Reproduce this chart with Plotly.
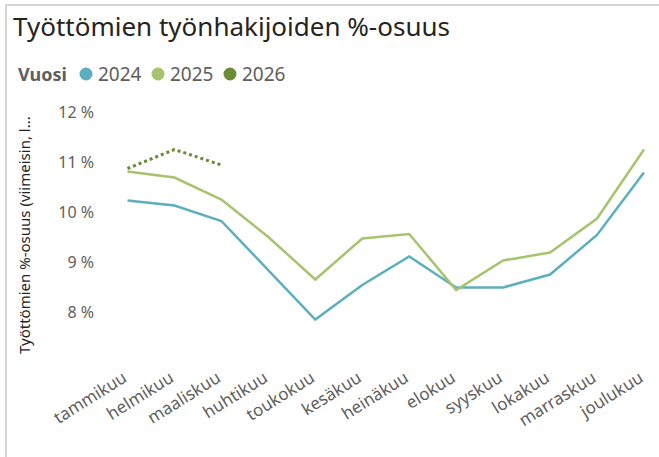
import plotly.graph_objects as go

months = ["tammikuu", "helmikuu", "maaliskuu", "huhtikuu", "toukokuu", "kesäkuu",
          "heinäkuu", "elokuu", "syyskuu", "lokakuu", "marraskuu", "joulukuu"]
v2024 = [10.23, 10.13, 9.82, 8.83, 7.85, 8.54, 9.11, 8.49, 8.49, 8.75, 9.54, 10.79]
v2025 = [10.81, 10.69, 10.25, 9.50, 8.65, 9.47, 9.56, 8.44, 9.03, 9.19, 9.87, 11.25]
v2026 = [10.87, 11.25, 10.94]
years = ["2024", "2025", "2026"]
colors = ["#5CB0BD", "#A6C46E", "#6A8B33"]
yticks = [8, 9, 10, 11, 12]
title_text = "Työttömien työnhakijoiden %-osuus"
ytitle_text = "Työttömien %-osuus (viimeisin, l..."
legend_title = "Vuosi"

FONT = "Noto Sans"
W, H = 659, 457
L, R, T, B = 104, 0, 102, 95
pw, ph = W - L - R, H - T - B

def cx(x):
    return x / W

def cy(y):
    return 1 - y / H

fig = go.Figure()
fig.add_trace(go.Scatter(x=months, y=v2024, mode="lines", line=dict(color=colors[0], width=2.5),
                         showlegend=False, hoverinfo="skip"))
fig.add_trace(go.Scatter(x=months, y=v2025, mode="lines", line=dict(color=colors[1], width=2.5),
                         showlegend=False, hoverinfo="skip"))
fig.add_trace(go.Scatter(x=months[:len(v2026)], y=v2026, mode="lines",
                         line=dict(color=colors[2], width=3, dash="dot"),
                         showlegend=False, hoverinfo="skip"))

fig.update_layout(
    width=W, height=H,
    margin=dict(l=L, r=R, t=T, b=B, autoexpand=False),
    paper_bgcolor="white", plot_bgcolor="white",
    font=dict(family=FONT, color="#605E5C"),
    title=dict(text=title_text, x=cx(13), xanchor="left", xref="container",
               y=cy(27), yanchor="middle", yref="container", pad=dict(l=0, r=0, t=0, b=0),
               font=dict(size=26, color="#252423", family=FONT)),
    showlegend=False,
    xaxis=dict(type="category", range=[-0.5, 11.32], showgrid=False, zeroline=False,
               showline=False, ticks="", tickangle=-32, automargin=False,
               tickfont=dict(size=17, color="#605E5C", family=FONT), ticklabelstandoff=2,
               ticklabelshift=-4),
    yaxis=dict(range=[7, 12.2], tickvals=yticks, ticktext=[f"{v} %" for v in yticks],
               showgrid=False, zeroline=False, showline=False, ticks="", automargin=False,
               tickfont=dict(size=16, color="#605E5C", family=FONT), ticklabelstandoff=9),
)

# y-axis title
fig.add_annotation(text=ytitle_text, xref="paper", yref="paper", x=(24 - L) / pw,
                   y=(H - B - 235) / ph, textangle=-90, showarrow=False,
                   xanchor="center", yanchor="middle",
                   font=dict(size=15, color="#252423", family=FONT))

# legend (drawn manually to match the layout of the original)
LEG_Y = 74
fig.add_annotation(text=f"<b>{legend_title}</b>", xref="paper", yref="paper",
                   x=(16 - L) / pw, y=(H - B - LEG_Y) / ph, showarrow=False,
                   xanchor="left", yanchor="middle",
                   font=dict(size=18, color="#605E5C", family=FONT))
for i, (yr, c) in enumerate(zip(years, colors)):
    ccx = 86 + 72 * i
    fig.add_shape(type="circle", xref="paper", yref="paper",
                  x0=(ccx - 6.5 - L) / pw, x1=(ccx + 6.5 - L) / pw,
                  y0=(H - B - LEG_Y - 6.5) / ph, y1=(H - B - LEG_Y + 6.5) / ph,
                  fillcolor=c, line=dict(width=0))
    fig.add_annotation(text=yr, xref="paper", yref="paper",
                       x=(ccx + 10 - L) / pw, y=(H - B - LEG_Y) / ph, showarrow=False,
                       xanchor="left", yanchor="middle",
                       font=dict(size=19, color="#605E5C", family=FONT))

# frame
fig.add_shape(type="rect", xref="paper", yref="paper", x0=(6 - L) / pw, x1=(700 - L) / pw,
              y0=(H - B - 520) / ph, y1=(H - B - 5) / ph, line=dict(color="#C8C6C4", width=1.5),
              fillcolor="rgba(0,0,0,0)", layer="below")

fig.write_html("out.html", config={"displayModeBar": False, "staticPlot": True},
               post_script="document.body.style.margin='0';document.body.style.overflow='hidden';")
